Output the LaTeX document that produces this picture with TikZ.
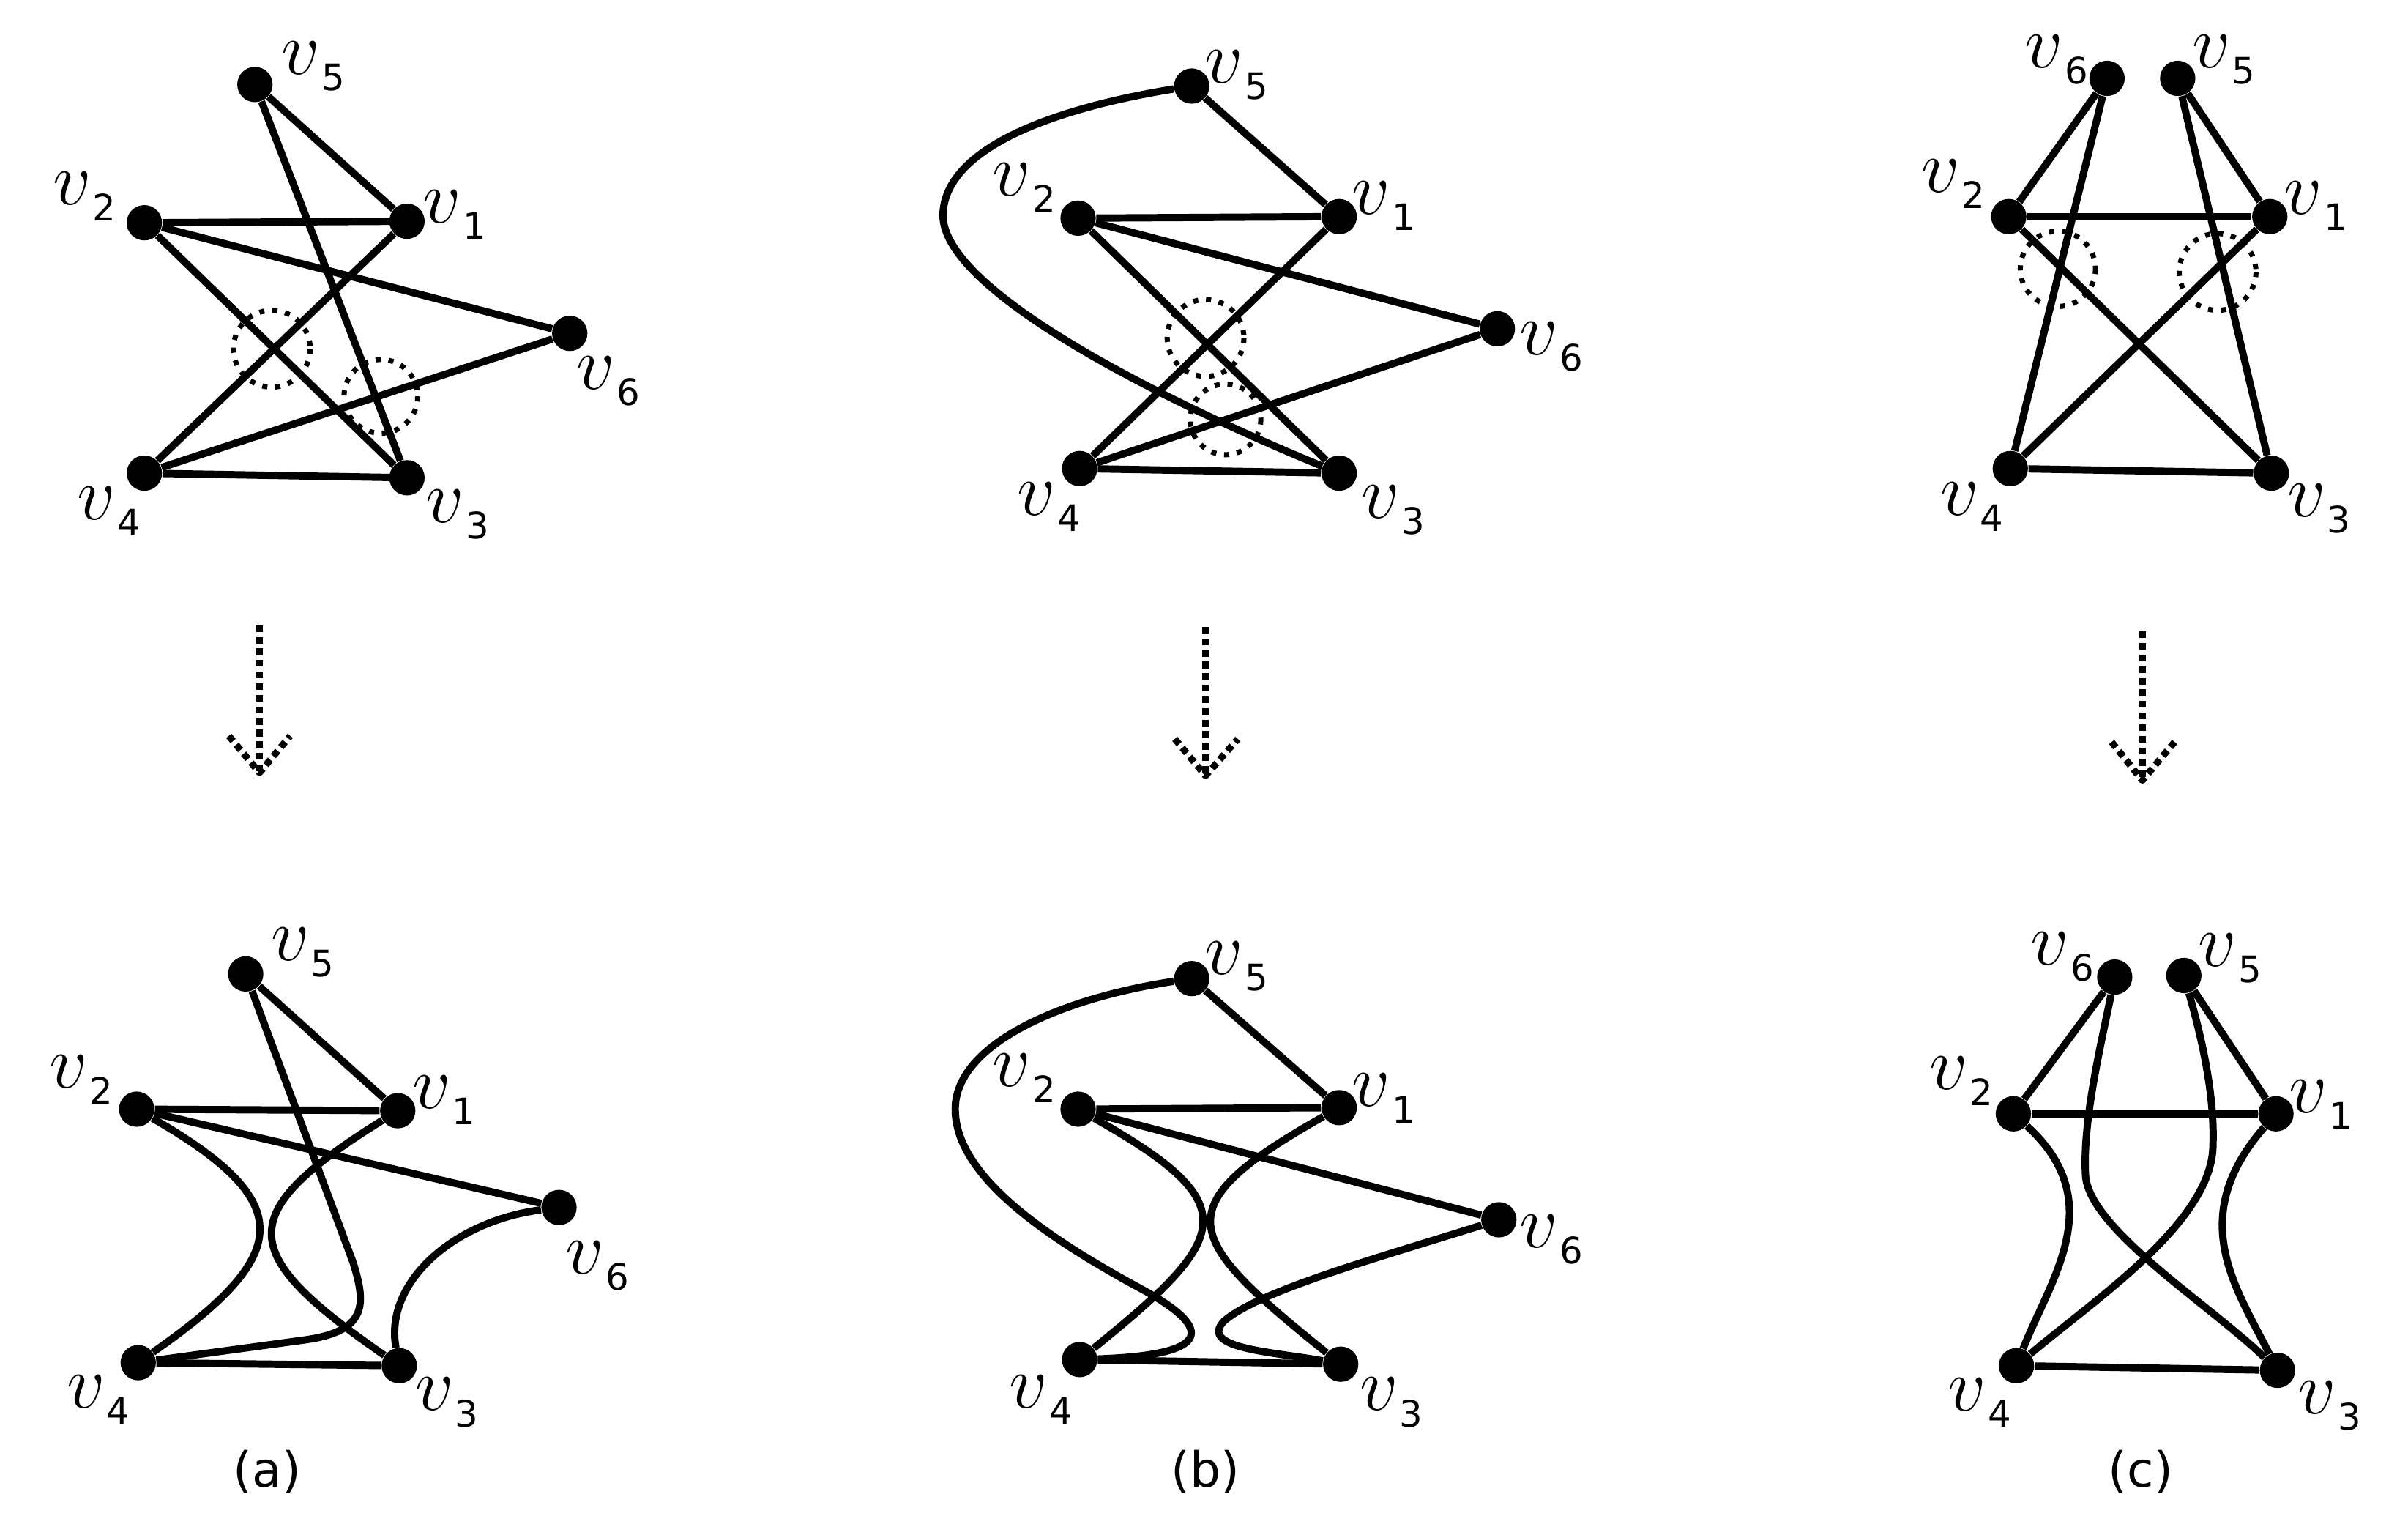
\RequirePackage{fix-cm}
\documentclass[tikz,border=0pt]{standalone}
\usepackage{fontspec}
\setsansfont{DejaVu Sans}
\newcommand{\vlab}[1]{{\fontsize{28}{28}\selectfont$v$}\kern0.6pt\raisebox{-6pt}{\sffamily\fontsize{13.5}{13.5}\selectfont #1}}
\begin{document}
\begin{tikzpicture}[x=0.02cm, y=-0.02cm, line join=round,
  vtx/.style={circle, fill=black, inner sep=0pt, minimum size=0.46cm},
  lbl/.style={inner sep=0pt},
  link/.style={line width=2.7pt},
  xring/.style={line width=1.9pt, dash pattern=on 1.9pt off 2.9pt},
  xarrow/.style={line width=2.5pt, dash pattern=on 2.5pt off 1.8pt},
  sublbl/.style={font=\sffamily\fontsize{18}{18}\selectfont}]
\useasboundingbox (0,0) rectangle (1568,994);

% top row, (a)
\node[vtx] (a1) at (265,144) {};
\node[vtx] (a2) at (94,145) {};
\node[vtx] (a3) at (265,311) {};
\node[vtx] (a4) at (94,308) {};
\node[vtx] (a5) at (166,55) {};
\node[vtx] (a6) at (371,217) {};
\node[lbl] (a1l) at (296,140) {\vlab{1}};
\node[lbl] (a2l) at (55,128) {\vlab{2}};
\node[lbl] (a3l) at (298,335) {\vlab{3}};
\node[lbl] (a4l) at (71,333) {\vlab{4}};
\node[lbl] (a5l) at (204,43) {\vlab{5}};
\node[lbl] (a6l) at (396,248) {\vlab{6}};
\draw[link] (a5) -- (a1);
\draw[link] (a5) -- (a3);
\draw[link] (a2) -- (a1);
\draw[link] (a2) -- (a6);
\draw[link] (a2) -- (a3);
\draw[link] (a1) -- (a4);
\draw[link] (a6) -- (a4);
\draw[link] (a4) -- (a3);
\draw[xring] (177,227) circle (25);
\draw[xring] (248,258) circle (24);

% top row, (b)
\node[vtx] (b1) at (872,141) {};
\node[vtx] (b2) at (702,142) {};
\node[vtx] (b3) at (872,308) {};
\node[vtx] (b4) at (703,305) {};
\node[vtx] (b5) at (776,56) {};
\node[vtx] (b6) at (975,214) {};
\node[lbl] (b1l) at (901,134) {\vlab{1}};
\node[lbl] (b2l) at (667,122) {\vlab{2}};
\node[lbl] (b3l) at (907,332) {\vlab{3}};
\node[lbl] (b4l) at (683,330) {\vlab{4}};
\node[lbl] (b5l) at (805,49) {\vlab{5}};
\node[lbl] (b6l) at (1010,226) {\vlab{6}};
\draw[link] (b5) -- (b1);
\draw[link] (b5) .. controls (690,70) and (615,95) .. (614,140)
  .. controls (614,190) and (760,262) .. (b3);
\draw[link] (b2) -- (b1);
\draw[link] (b2) -- (b6);
\draw[link] (b2) -- (b3);
\draw[link] (b1) -- (b4);
\draw[link] (b6) -- (b4);
\draw[link] (b4) -- (b3);
\draw[xring] (785,220) circle (25);
\draw[xring] (798,273) circle (23);

% top row, (c)
\node[vtx] (c1) at (1478,141) {};
\node[vtx] (c2) at (1308,141) {};
\node[vtx] (c3) at (1479,308) {};
\node[vtx] (c4) at (1309,305) {};
\node[vtx] (c5) at (1418,51) {};
\node[vtx] (c6) at (1372,51) {};
\node[lbl] (c1l) at (1508,134) {\vlab{1}};
\node[lbl] (c2l) at (1272,120) {\vlab{2}};
\node[lbl] (c3l) at (1510,331) {\vlab{3}};
\node[lbl] (c4l) at (1284,330) {\vlab{4}};
\node[lbl] (c5l) at (1448,39) {\vlab{5}};
\node[lbl] (c6l) at (1339,39) {\vlab{6}};
\draw[link] (c6) -- (c2);
\draw[link] (c6) -- (c4);
\draw[link] (c5) -- (c1);
\draw[link] (c5) -- (c3);
\draw[link] (c2) -- (c1);
\draw[link] (c2) -- (c3);
\draw[link] (c1) -- (c4);
\draw[link] (c4) -- (c3);
\draw[xring] (1340,175) circle (24.5);
\draw[xring] (1444,177) circle (25);

% dotted arrows
\coordinate (ta) at (169,407);
\coordinate (pa) at (169,503);
\coordinate (la) at (149,479);
\coordinate (ra) at (189,479);
\coordinate (tb) at (785,408);
\coordinate (pb) at (785,505);
\coordinate (lb) at (765,481);
\coordinate (rb) at (806,481);
\coordinate (tc) at (1395,411);
\coordinate (pc) at (1395,508);
\coordinate (lc) at (1375,483);
\coordinate (rc) at (1416,483);
\draw[xarrow] (ta) -- (pa);
\draw[xarrow] (la) -- (pa) -- (ra);
\draw[xarrow] (tb) -- (pb);
\draw[xarrow] (lb) -- (pb) -- (rb);
\draw[xarrow] (tc) -- (pc);
\draw[xarrow] (lc) -- (pc) -- (rc);

% bottom row, (a)
\node[vtx] (d1) at (259,723) {};
\node[vtx] (d2) at (89,722) {};
\node[vtx] (d3) at (260,889) {};
\node[vtx] (d4) at (90,887) {};
\node[vtx] (d5) at (160,634) {};
\node[vtx] (d6) at (364,786) {};
\node[lbl] (d1l) at (289,716) {\vlab{1}};
\node[lbl] (d2l) at (53,703) {\vlab{2}};
\node[lbl] (d3l) at (291,913) {\vlab{3}};
\node[lbl] (d4l) at (64,911) {\vlab{4}};
\node[lbl] (d5l) at (197,620) {\vlab{5}};
\node[lbl] (d6l) at (389,824) {\vlab{6}};
\draw[link] (d5) -- (d1);
\draw[link] (d2) -- (d1);
\draw[link] (d2) -- (d6);
\draw[link] (d4) -- (d3);
\draw[link] (d2) .. controls (195,783) and (190,817) .. (d4);
\draw[link] (d1) .. controls (150,791) and (155,816) .. (d3);
\draw[link] (d5) -- (230,822) .. controls (238,848) and (240,866) .. (200,872) -- (d4);
\draw[link] (d6) .. controls (295,795) and (250,835) .. (d3);
\node[sublbl] (capa) at (174,958) {(a)};

% bottom row, (b)
\node[vtx] (e1) at (872,721) {};
\node[vtx] (e2) at (702,722) {};
\node[vtx] (e3) at (873,888) {};
\node[vtx] (e4) at (703,885) {};
\node[vtx] (e5) at (776,637) {};
\node[vtx] (e6) at (976,794) {};
\node[lbl] (e1l) at (901,715) {\vlab{1}};
\node[lbl] (e2l) at (667,702) {\vlab{2}};
\node[lbl] (e3l) at (906,913) {\vlab{3}};
\node[lbl] (e4l) at (678,911) {\vlab{4}};
\node[lbl] (e5l) at (805,629) {\vlab{5}};
\node[lbl] (e6l) at (1010,807) {\vlab{6}};
\draw[link] (e5) -- (e1);
\draw[link] (e2) -- (e1);
\draw[link] (e2) -- (e6);
\draw[link] (e4) -- (e3);
\draw[link] (e2) .. controls (812,784) and (802,805) .. (e4);
\draw[link] (e1) .. controls (757,786) and (770,805) .. (e3);
\draw[link] (e5) .. controls (690,650) and (622,680) .. (622,722)
  .. controls (622,765) and (680,805) .. (745,840)
  .. controls (790,865) and (790,882) .. (e4);
\draw[link] (e6) .. controls (900,818) and (820,840) .. (797,860)
  .. controls (780,878) and (830,880) .. (e3);
\node[sublbl] (capb) at (785,958) {(b)};

% bottom row, (c)
\node[vtx] (f1) at (1482,725) {};
\node[vtx] (f2) at (1311,725) {};
\node[vtx] (f3) at (1483,892) {};
\node[vtx] (f4) at (1313,889) {};
\node[vtx] (f5) at (1422,635) {};
\node[vtx] (f6) at (1377,636) {};
\node[lbl] (f1l) at (1511,719) {\vlab{1}};
\node[lbl] (f2l) at (1277,704) {\vlab{2}};
\node[lbl] (f3l) at (1517,915) {\vlab{3}};
\node[lbl] (f4l) at (1289,913) {\vlab{4}};
\node[lbl] (f5l) at (1452,624) {\vlab{5}};
\node[lbl] (f6l) at (1343,623) {\vlab{6}};
\draw[link] (f6) -- (f2);
\draw[link] (f5) -- (f1);
\draw[link] (f2) -- (f1);
\draw[link] (f4) -- (f3);
\draw[link] (f2) .. controls (1374,782) and (1335,833) .. (f4);
\draw[link] (f1) .. controls (1423,793) and (1456,838) .. (f3);
\draw[link] (f6) .. controls (1368,680) and (1356,730) .. (1358,765)
  .. controls (1360,800) and (1440,850) .. (f3);
\draw[link] (f5) .. controls (1435,680) and (1442,715) .. (1441,745)
  .. controls (1441,795) and (1365,845) .. (f4);
\node[sublbl] (capc) at (1394,958) {(c)};
\end{tikzpicture}
\end{document}
